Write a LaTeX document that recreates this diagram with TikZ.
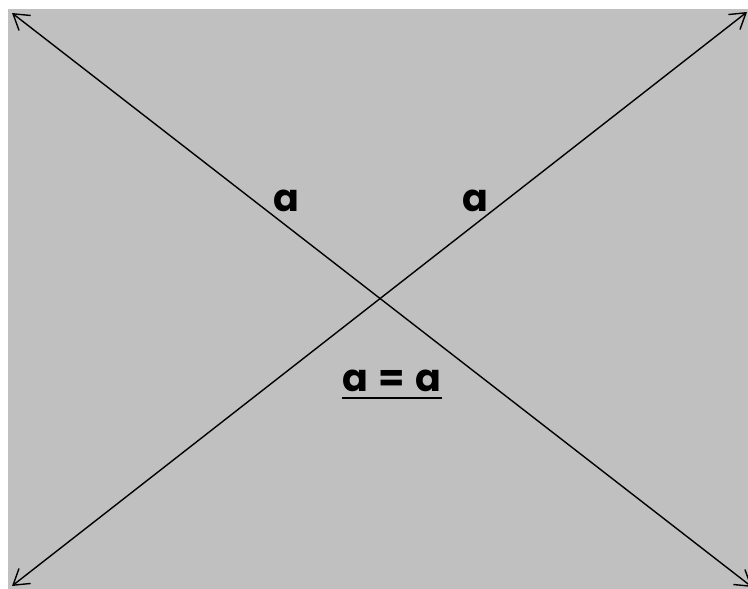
\documentclass[tikz,border=0pt]{standalone}
\usepackage{fontspec}
\setmainfont{Poppins}
\usetikzlibrary{arrows.meta}
\definecolor{panelgray}{RGB}{192,192,192}
\begin{document}
\begin{tikzpicture}[x=1pt, y=-1pt, every node/.style={font=\fontsize{38}{40}\selectfont\bfseries}]
  \tikzstyle{diag}=[line width=1.4pt,{Straight Barb[length=15pt,width=19pt]}-{Straight Barb[length=15pt,width=19pt]}]
  \tikzstyle{lbl}=[inner sep=0pt,anchor=base]
  \useasboundingbox (0,0) rectangle (748,589);
  \fill[panelgray] (8,9) rectangle (748,589);
  \coordinate (tl) at (12,13);
  \coordinate (tr) at (747,12);
  \coordinate (bl) at (12,586);
  \coordinate (br) at (752,587);
  \draw[diag] (tl) -- (br);
  \draw[diag] (bl) -- (tr);
  \node[lbl] (lefta) at (286,211) {a};
  \node[lbl] (righta) at (475,211) {a};
  \node[lbl] (equal) at (392,391) {a\hspace{10pt}=\hspace{11pt}a};
  \draw[line width=2.6pt] ([yshift=-7pt]equal.base west) -- ([yshift=-7pt]equal.base east);
\end{tikzpicture}
\end{document}
